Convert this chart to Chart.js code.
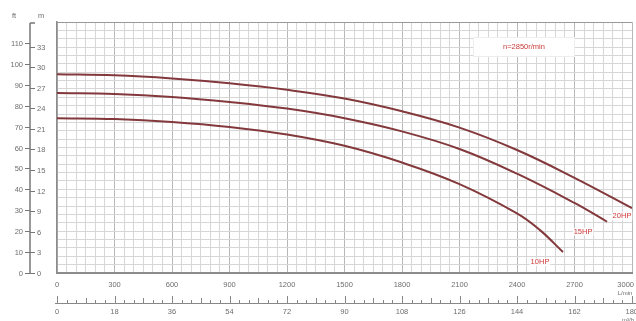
<!DOCTYPE html>
<html><head><meta charset="utf-8">
<script src="https://cdn.jsdelivr.net/npm/chart.js@4/dist/chart.umd.min.js"></script>
<style>html,body{margin:0;padding:0;background:#fff}#wrap{width:636px;height:321px;position:relative}</style>
</head><body><div id="wrap"><canvas id="c" width="636" height="321"></canvas></div>
<script>
// ---- data ----
const curveNames = ['20HP', '15HP', '10HP'];
const flow20 = [0, 300, 600, 900, 1200, 1500, 1800, 2100, 2400, 2700, 3000];
const head20 = [95, 94.5, 93, 90.7, 87.6, 83.4, 77.3, 69.5, 58.8, 45.5, 31];
const flow15 = [0, 300, 600, 900, 1200, 1500, 1800, 2100, 2400, 2700, 2870];
const head15 = [86, 85.6, 84.2, 81.8, 78.6, 74, 67.7, 59.3, 47.5, 33.5, 24.5];
const flow10 = [0, 300, 600, 900, 1200, 1500, 1800, 2100, 2400, 2520, 2640];
const head10 = [74, 73.6, 72.2, 69.8, 66.2, 60.8, 52.8, 42.5, 28.5, 20.5, 10];
const ftTicks = [0, 10, 20, 30, 40, 50, 60, 70, 80, 90, 100, 110];
const mTicks = [0, 3, 6, 9, 12, 15, 18, 21, 24, 27, 30, 33];
const lminTicks = [0, 300, 600, 900, 1200, 1500, 1800, 2100, 2400, 2700, 3000];
const m3hTicks = [0, 18, 36, 54, 72, 90, 108, 126, 144, 162, 180];
const speedText = 'n=2850r/min';
const FT_PER_M = 3.28084;

const pts = (q, h) => q.map((v, i) => ({ x: v, y: h[i] }));
const series = [pts(flow20, head20), pts(flow15, head15), pts(flow10, head10)];

const FONT = '7.5px "Liberation Sans", Arial, sans-serif';
const labelOffsets = [[-10, 8], [-24, 10], [-23, 10]];

const decor = {
  id: 'decor',
  afterDraw(chart) {
    const ctx = chart.ctx, y = chart.scales.y, x = chart.scales.x, x2 = chart.scales.x2;
    const ca = chart.chartArea;
    ctx.save();
    // left double axis
    const sx = 30;
    ctx.strokeStyle = '#777'; ctx.lineWidth = 1.5;
    ctx.beginPath(); ctx.moveTo(sx, ca.top + 1); ctx.lineTo(sx, ca.bottom); ctx.stroke();
    ctx.beginPath(); ctx.moveTo(sx, ca.top + 1); ctx.lineTo(sx + 5, ca.top + 1); ctx.stroke();
    ctx.font = FONT; ctx.fillStyle = '#6e6e6e'; ctx.textBaseline = 'middle';
    ctx.lineWidth = 1;
    ftTicks.forEach(v => {
      const py = Math.round(y.getPixelForValue(v)) + 0.5;
      ctx.beginPath(); ctx.moveTo(sx - 5, py); ctx.lineTo(sx, py); ctx.stroke();
      ctx.textAlign = 'right'; ctx.fillText(String(v), sx - 7, py);
    });
    mTicks.forEach(v => {
      const py = Math.round(y.getPixelForValue(v * FT_PER_M)) + 0.5;
      ctx.beginPath(); ctx.moveTo(sx, py); ctx.lineTo(sx + 5, py); ctx.stroke();
      ctx.textAlign = 'left'; ctx.fillText(String(v), sx + 7, py);
    });
    ctx.textAlign = 'center';
    ctx.fillText('ft', 14, 16);
    ctx.fillText('m', 41, 16);
    // L/min labels
    ctx.textBaseline = 'top';
    lminTicks.forEach(v => {
      const tw = ctx.measureText(String(v)).width;
      let px = x.getPixelForValue(v);
      px = Math.min(px, 634 - tw / 2);
      ctx.fillText(String(v), px, ca.bottom + 8);
    });
    ctx.font = '6px "Liberation Sans", Arial, sans-serif';
    ctx.fillText('L/min', 625, ca.bottom + 17);
    // m3/h ruler
    const by = 303;
    ctx.strokeStyle = '#888'; ctx.lineWidth = 1;
    ctx.beginPath(); ctx.moveTo(ca.left - 2, by + 0.5); ctx.lineTo(636, by + 0.5); ctx.stroke();
    for (let v = 0; v <= 180; v += 3) {
      const px = Math.round(x2.getPixelForValue(v)) + 0.5;
      const h = v % 18 === 0 ? 7 : (v % 9 === 0 ? 5 : 3);
      ctx.beginPath(); ctx.moveTo(px, by); ctx.lineTo(px, by - h); ctx.stroke();
    }
    ctx.font = FONT; ctx.fillStyle = '#6e6e6e';
    m3hTicks.forEach(v => {
      const tw = ctx.measureText(String(v)).width;
      let px = x2.getPixelForValue(v);
      px = Math.min(px, 636 - tw / 2 + 2);
      ctx.fillText(String(v), px, by + 5);
    });
    ctx.font = '6px "Liberation Sans", Arial, sans-serif';
    ctx.fillText('m\u00B3/h', 628, by + 14);
    // curve labels
    ctx.font = FONT; ctx.textBaseline = 'middle';
    series.forEach((s, i) => {
      const last = s[s.length - 1];
      const px = x.getPixelForValue(last.x) + labelOffsets[i][0];
      const py = y.getPixelForValue(last.y) + labelOffsets[i][1];
      ctx.fillStyle = 'rgba(255,255,255,0.8)';
      const tw = ctx.measureText(curveNames[i]).width;
      ctx.fillRect(px - tw / 2 - 1, py - 4, tw + 2, 8);
      ctx.fillStyle = '#d03a3a';
      ctx.fillText(curveNames[i], px, py);
    });
    // speed box
    ctx.fillStyle = '#fff';
    ctx.fillRect(473, 37, 102, 20);
    ctx.strokeStyle = '#eee'; ctx.strokeRect(473.5, 37.5, 101, 19);
    ctx.fillStyle = '#c83a3a';
    ctx.fillText(speedText, 524, 47);
    ctx.restore();
  }
};

new Chart(document.getElementById('c'), {
  type: 'scatter',
  data: {
    datasets: series.map((s, i) => ({
      label: curveNames[i],
      data: s,
      showLine: true,
      borderColor: '#83393c',
      borderWidth: 2,
      pointRadius: 0,
      tension: 0.4
    }))
  },
  options: {
    responsive: false,
    animation: false,
    devicePixelRatio: 1,
    layout: { padding: { top: 22, right: 4, left: 0, bottom: 0 } },
    plugins: { legend: { display: false }, tooltip: { enabled: false } },
    scales: {
      x: {
        type: 'linear', position: 'bottom', min: 0, max: 3000,
        ticks: { display: false, stepSize: 50 },
        grid: {
          drawTicks: false,
          color: c => (c.tick && c.tick.value % 300 === 0) ? '#b8b8b8' : '#d6d6d6',
          lineWidth: 1
        },
        border: { color: '#8c8c8c', width: 2 },
        afterFit: s => { s.height = 48; s.paddingLeft = 0; s.paddingRight = 0; }
      },
      x2: {
        type: 'linear', display: false, min: 0, max: 180
      },
      y: {
        type: 'linear', min: 0, max: 120,
        ticks: { display: false, stepSize: 4 },
        grid: {
          drawTicks: false,
          color: c => (c.tick && c.tick.value === 120) ? '#999' : '#d6d6d6'
        },
        border: { color: '#8c8c8c', width: 1.5 },
        afterFit: s => { s.width = 57; s.paddingTop = 0; s.paddingBottom = 0; }
      }
    }
  },
  plugins: [decor]
});
</script>
</body></html>
